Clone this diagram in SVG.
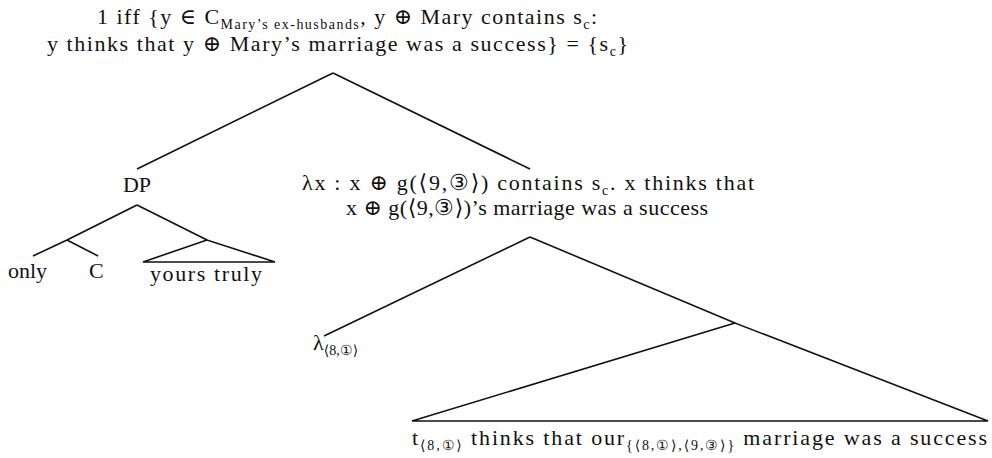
<svg xmlns="http://www.w3.org/2000/svg" width="992" height="458" viewBox="0 0 992 458">
<style>
text{font-family:"Liberation Serif","DejaVu Serif",serif;font-size:22px;fill:#111}
.sub{font-size:14px}
.edge{stroke:#111;stroke-width:1.6;fill:none;stroke-linejoin:miter}
</style>
<rect width="992" height="458" fill="#fff"/>
<g id="connectors">
<line class="edge" x1="333" y1="73" x2="137" y2="169"/>
<line class="edge" x1="333" y1="73" x2="530" y2="169"/>
<line class="edge" x1="137" y1="205" x2="67" y2="240"/>
<line class="edge" x1="67" y1="240" x2="33" y2="256"/>
<line class="edge" x1="67" y1="240" x2="98" y2="256"/>
<line class="edge" x1="137" y1="205" x2="207" y2="240"/>
<polygon class="edge" points="207,240 143,262 275,262"/>
<line class="edge" x1="530" y1="237" x2="324" y2="336"/>
<line class="edge" x1="530" y1="237" x2="735" y2="323"/>
<polygon class="edge" points="735,323 412,421 988,421"/>
</g>
<g id="root">
<text x="97" y="24" textLength="500" lengthAdjust="spacing">1 iff {y ∈ C<tspan class="sub" dy="5">Mary’s ex-husbands</tspan><tspan dy="-5">, y ⊕ Mary contains s</tspan><tspan class="sub" dy="5">c</tspan><tspan dy="-5">:</tspan></text>
<text x="47" y="51" textLength="581" lengthAdjust="spacing">y thinks that y ⊕ Mary’s marriage was a success} = {s<tspan class="sub" dy="5">c</tspan><tspan dy="-5">}</tspan></text>
</g>
<g id="dp">
<text x="137" y="192" text-anchor="middle">DP</text>
</g>
<g id="only"><text x="8" y="278">only</text></g>
<g id="c"><text x="89" y="278">C</text></g>
<g id="yours-truly"><text x="150" y="281" textLength="112" lengthAdjust="spacing">yours truly</text></g>
<g id="lambda-node">
<text x="302" y="190" textLength="452" lengthAdjust="spacing">λx : x ⊕ g(⟨9,③⟩) contains s<tspan class="sub" dy="5">c</tspan><tspan dy="-5">. x thinks that</tspan></text>
<text x="346" y="215" textLength="362" lengthAdjust="spacing">x ⊕ g(⟨9,③⟩)’s marriage was a success</text>
</g>
<g id="lambda-8-1">
<text x="313" y="350">λ<tspan class="sub" dy="5">⟨8,①⟩</tspan></text>
</g>
<g id="bottom">
<text x="412" y="445" textLength="575" lengthAdjust="spacing">t<tspan class="sub" dy="5">⟨8,①⟩</tspan><tspan dy="-5"> thinks that our</tspan><tspan class="sub" dy="5">{⟨8,①⟩,⟨9,③⟩}</tspan><tspan dy="-5"> marriage was a success</tspan></text>
</g>
</svg>
